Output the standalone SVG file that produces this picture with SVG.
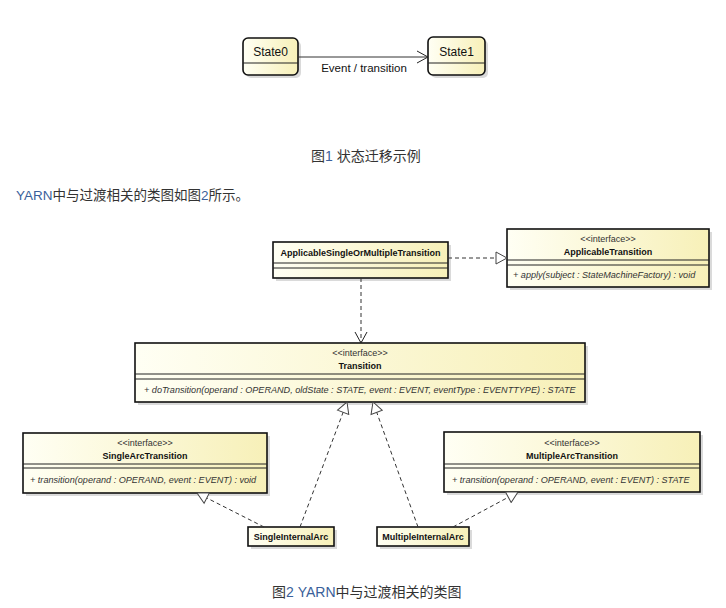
<svg xmlns="http://www.w3.org/2000/svg" width="726" height="608" viewBox="0 0 726 608">
<defs>
  <linearGradient id="fillg" x1="0" y1="0" x2="1" y2="0">
    <stop offset="0" stop-color="#fffff4"/>
    <stop offset="1" stop-color="#f7f0b8"/>
  </linearGradient>
  <marker id="open" markerWidth="14" markerHeight="14" refX="12" refY="7" orient="auto" markerUnits="userSpaceOnUse">
    <path d="M1,1 L12,7 L1,13" fill="none" stroke="#222" stroke-width="1"/>
  </marker>
  <marker id="tri" markerWidth="14" markerHeight="14" refX="12" refY="7" orient="auto" markerUnits="userSpaceOnUse">
    <path d="M1,1 L12,7 L1,13 Z" fill="#fff" stroke="#444" stroke-width="1"/>
  </marker>
</defs>
<style>
  .box { fill: url(#fillg); stroke: #111; stroke-width: 1.6; }
  .shadow { fill: #dadada; }
  .div { stroke: #222; stroke-width: 1; }
  .st { font-family: "Liberation Sans", Arial, sans-serif; font-size: 12px; fill: #111; text-anchor: middle; }
  .name { font-family: "Liberation Sans", Arial, sans-serif; font-size: 9px; font-weight: bold; fill: #111; text-anchor: middle; }
  .stereo { font-family: "Liberation Sans", Arial, sans-serif; font-size: 9px; fill: #333; text-anchor: middle; }
  .meth { font-family: "Liberation Sans", Arial, sans-serif; font-size: 9.1px; font-style: italic; fill: #333; }
  .cap { font-family: "Liberation Sans", "Noto Sans CJK SC", sans-serif; font-size: 14px; fill: #333; }
  .lat { fill: #3a5f9a; }
  .conn { fill: none; stroke: #333; stroke-width: 1; }
  .dash { stroke-dasharray: 4 3; }
</style>

<g id="State0">
  <rect class="shadow" x="246" y="41" width="55" height="37" rx="5"/>
  <rect class="box" x="243" y="38" width="55" height="37" rx="5"/>
  <line class="div" x1="243" y1="63" x2="298" y2="63"/>
  <text class="st" x="270.5" y="56">State0</text>
</g>
<g id="State1">
  <rect class="shadow" x="431" y="40" width="57" height="38" rx="5"/>
  <rect class="box" x="428" y="37" width="57" height="38" rx="5"/>
  <line class="div" x1="428" y1="63" x2="485" y2="63"/>
  <text class="st" x="456.5" y="56">State1</text>
</g>

<g id="ApplicableSingleOrMultipleTransition">
  <rect class="shadow" x="276" y="245" width="175" height="36"/>
  <rect class="box" x="273" y="242" width="175" height="36"/>
  <line class="div" x1="273" y1="263" x2="448" y2="263"/>
  <line class="div" x1="273" y1="268" x2="448" y2="268"/>
  <text class="name" x="360.5" y="256">ApplicableSingleOrMultipleTransition</text>
</g>

<g id="ApplicableTransition">
  <rect class="shadow" x="510" y="232" width="202" height="58"/>
  <rect class="box" x="507" y="229" width="202" height="58"/>
  <line class="div" x1="507" y1="260" x2="709" y2="260"/>
  <line class="div" x1="507" y1="265" x2="709" y2="265"/>
  <text class="stereo" x="608" y="242">&lt;&lt;interface&gt;&gt;</text>
  <text class="name" x="608" y="255">ApplicableTransition</text>
  <text class="meth" x="513" y="278">+ apply(subject : StateMachineFactory) : void</text>
</g>

<g id="Transition">
  <rect class="shadow" x="138" y="346" width="450" height="59"/>
  <rect class="box" x="135" y="343" width="450" height="59"/>
  <line class="div" x1="135" y1="374" x2="585" y2="374"/>
  <line class="div" x1="135" y1="379" x2="585" y2="379"/>
  <text class="stereo" x="360" y="356">&lt;&lt;interface&gt;&gt;</text>
  <text class="name" x="360" y="369">Transition</text>
  <text class="meth" x="144" y="393">+ doTransition(operand : OPERAND, oldState : STATE, event : EVENT, eventType : EVENTTYPE) : STATE</text>
</g>

<g id="SingleArcTransition">
  <rect class="shadow" x="26" y="436" width="244" height="60"/>
  <rect class="box" x="23" y="433" width="244" height="60"/>
  <line class="div" x1="23" y1="464" x2="267" y2="464"/>
  <line class="div" x1="23" y1="468" x2="267" y2="468"/>
  <text class="stereo" x="145" y="446">&lt;&lt;interface&gt;&gt;</text>
  <text class="name" x="145" y="459">SingleArcTransition</text>
  <text class="meth" x="30" y="483">+ transition(operand : OPERAND, event : EVENT) : void</text>
</g>

<g id="MultipleArcTransition">
  <rect class="shadow" x="447" y="435" width="256" height="60"/>
  <rect class="box" x="444" y="432" width="256" height="60"/>
  <line class="div" x1="444" y1="464" x2="700" y2="464"/>
  <line class="div" x1="444" y1="468" x2="700" y2="468"/>
  <text class="stereo" x="572" y="446">&lt;&lt;interface&gt;&gt;</text>
  <text class="name" x="572" y="459">MultipleArcTransition</text>
  <text class="meth" x="452" y="483">+ transition(operand : OPERAND, event : EVENT) : STATE</text>
</g>

<g id="SingleInternalArc">
  <rect class="shadow" x="251" y="530" width="86" height="19"/>
  <rect class="box" x="248" y="527" width="86" height="19"/>
  <text class="name" x="291" y="540">SingleInternalArc</text>
</g>

<g id="MultipleInternalArc">
  <rect class="shadow" x="380" y="530" width="92" height="19"/>
  <rect class="box" x="377" y="527" width="92" height="19"/>
  <text class="name" x="423" y="540">MultipleInternalArc</text>
</g>

<g id="connectors">
  <line class="conn" x1="298" y1="57" x2="428" y2="57" marker-end="url(#open)"/>
  <text class="st" x="364" y="72" style="font-size:11.5px">Event / transition</text>
  <line class="conn dash" x1="448" y1="258" x2="507" y2="258" marker-end="url(#tri)"/>
  <line class="conn dash" x1="361" y1="278" x2="361" y2="343" marker-end="url(#open)"/>
  <line class="conn dash" x1="300" y1="527" x2="347" y2="402" marker-end="url(#tri)"/>
  <line class="conn dash" x1="418" y1="527" x2="373" y2="402" marker-end="url(#tri)"/>
  <line class="conn dash" x1="264" y1="527" x2="197" y2="493" marker-end="url(#tri)"/>
  <line class="conn dash" x1="453" y1="527" x2="518" y2="492" marker-end="url(#tri)"/>
</g>

<text class="cap" x="311" y="161">图<tspan class="lat">1</tspan> 状态迁移示例</text>
<text class="cap" x="16" y="200" style="font-size:13.5px"><tspan class="lat">YARN</tspan>中与过渡相关的类图如图<tspan class="lat">2</tspan>所示。</text>
<text class="cap" x="272" y="597">图<tspan class="lat">2 YARN</tspan>中与过渡相关的类图</text>
</svg>
